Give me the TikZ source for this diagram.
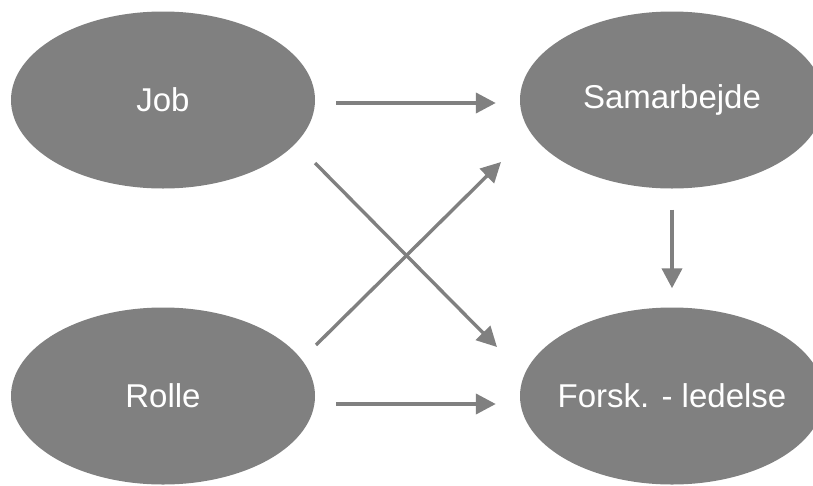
\documentclass[tikz,border=0pt]{standalone}
\usepackage{fontspec}
\setmainfont{Liberation Sans}
\usetikzlibrary{shapes.geometric,arrows.meta}
\definecolor{blobgray}{RGB}{128,128,128}

\begin{document}
\begin{tikzpicture}[x=1pt, y=-1pt,
    blob/.style={ellipse, fill=blobgray, text=white, inner sep=0pt,
      minimum width=304pt, minimum height=177pt,
      font=\fontsize{33}{40}\selectfont},
    link/.style={draw=blobgray, line width=4pt,
      -{Triangle[length=20pt,width=20pt]}},
    cross/.style={link, line width=3.4pt}]
    \clip (0,0) rectangle (813,485);
    \node[blob] (job)        at (163,100) {Job};
    \node[blob] (samarbejde) at (672,100) {Samarbejde};
    \node[blob] (rolle)      at (163,396) {Rolle};
    \node[blob, inner xsep=-20pt] (forsk) at (672,396) {Forsk. - ledelse};
    % ends of the crossing arrows
    \coordinate (jobout)   at (315,163);
    \coordinate (forskin)  at (497,347);
    \coordinate (rolleout) at (316,345);
    \coordinate (samin)    at (501,162);
    \draw[link, shorten <=21pt, shorten >=24pt]
      ([yshift=-3pt]job.east) -- ([yshift=-3pt]samarbejde.west);
    \draw[link, shorten <=21pt, shorten >=24pt]
      ([yshift=-8pt]rolle.east) -- ([yshift=-8pt]samarbejde.west |- forsk.center);
    \draw[link, shorten <=21pt, shorten >=19pt]
      (samarbejde.south) -- (forsk.north);
    \draw[cross] (jobout) -- (forskin);
    \draw[cross] (rolleout) -- (samin);
\end{tikzpicture}
\end{document}
